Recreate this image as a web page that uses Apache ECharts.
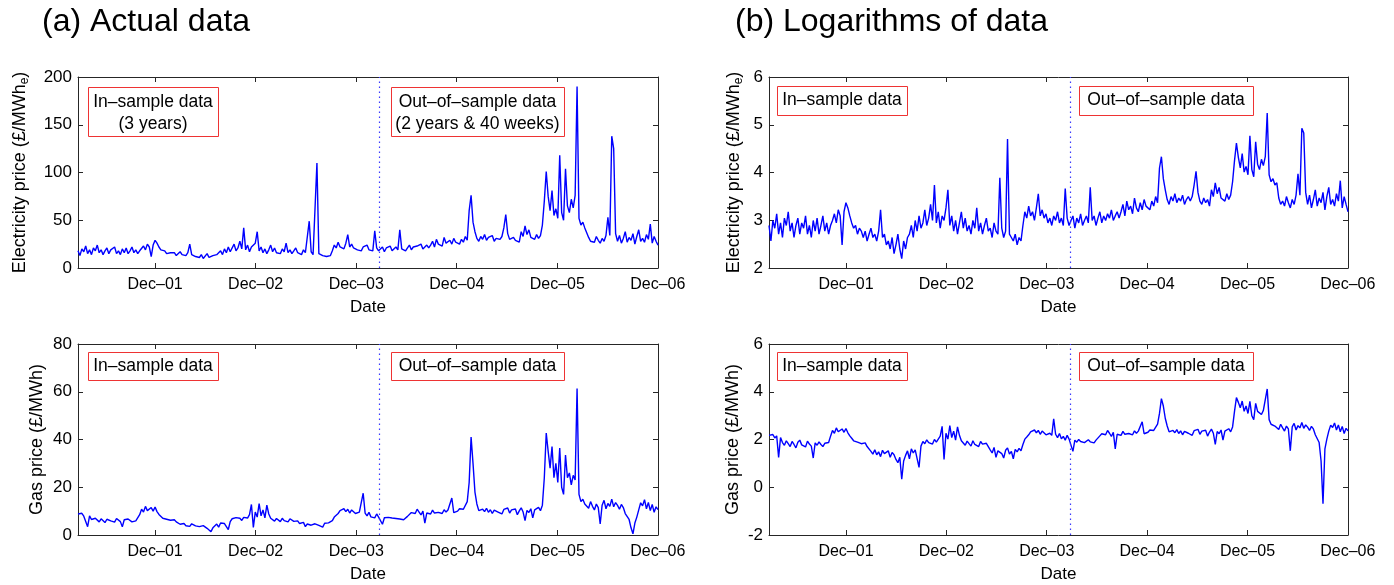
<!DOCTYPE html>
<html><head><meta charset="utf-8">
<script src="https://cdn.jsdelivr.net/npm/echarts@6/dist/echarts.min.js"></script>
<style>html,body{margin:0;padding:0;background:#fff}#c{width:1394px;height:585px}</style>
</head><body><div id="c"></div>
<script>
// ---- data ----
const firstWeek = 2001.15;          // decimal year of first (weekly) observation
const weekStep = 7 / 365.25;        // one week in years
const splitYear = 2004.15;          // end of the 3-year in-sample window
const tickYears = [2001.917, 2002.917, 2003.917, 2004.917, 2005.917, 2006.917];
const tickLabels = ['Dec–01', 'Dec–02', 'Dec–03', 'Dec–04', 'Dec–05', 'Dec–06'];

// electricity price, £/MWh_e (weekly readings)
const elecPrice = [
  18,13,20,17,23,15,19,14,21,18,24,16,19,14,18,21,15,19,17,22,15,18,14,20,16,21,15,18,22,16,19,15,18,
  20,23,19,25,22,12,24,29,26,
  22,19,17,18,15,17,16,
  14,16,13,15,17,14,15,13,16,25,14,15,
  12,13,11,14,10,12,15,11,9,13,11,14,
  15,18,14,20,16,22,17,19,25,18,21,28,20,
  42,
  19,24,17,22,20,26,
  38,
  18,22,16,20,15,19,24,17,21,16,18,15,20,17,26,16,19,15,18,21,16,17,14,19,16,
  15,49,17,14,16,110,15,
  14,13,15,12,14,13,
  18,24,21,27,22,24,20,26,35,22,25,21,
  23,19,21,18,22,20,24,19,21,18,
  39,
  21,18,20,22,17,21,19,23,18,20,22,19,
  40,
  20,22,18,21,24,19,22,20,23,21,25,20,22,24,21,
  24,28,22,30,25,27,23,32,26,24,29,25,31,27,
  28,25,30,27,33,29,
  60,76,48,38,
  31,28,33,30,35,29,32,30,34,28,31,33,30,
  33,42,56,36,
  30,28,32,29,31,27,38,33,44,35,40,32,
  33,30,35,31,34,
  45,70,
  101,75,60,81,55,62,52,
  118,
  58,50,
  104,
  65,58,72,63,76,
  190,
  52,45,48,42,44,
  32,28,30,27,33,29,26,31,28,34,
  53,34,138,125,36,
  28,34,26,31,38,27,32,29,36,25,33,40,28,31,27,35,30,46,26,33,28,24
];

// gas price, £/MWh (weekly readings)
const gasPrice = [
  8.8,8.2,9.1,7.9,8.6,3.5,8.0,
  6.5,5.8,7.0,6.2,5.5,6.8,6.0,5.2,6.6,7.2,5.9,6.3,5.4,6.9,6.1,5.6,3.4,6.4,5.8,6.7,6.0,5.5,6.3,5.9,6.5,
  8.5,10.8,9.6,12.0,10.2,9.4,11.5,10.0,11.7,9.8,
  8.6,7.8,7.0,7.5,6.6,6.9,6.2,5.8,6.4,5.5,5.9,
  4.5,4.0,4.8,3.9,4.4,3.6,4.7,4.1,3.8,4.6,3.5,4.3,3.9,3.2,
  2.8,3.5,1.4,3.0,
  3.8,4.6,3.3,5.0,4.2,4.8,5.2,2.3,
  5.6,6.8,6.2,7.3,6.5,7.0,6.1,7.4,6.6,7.1,
  8.5,12.8,3.2,9.6,7.5,13.2,8.0,10.5,7.2,12.5,8.8,7.0,
  6.5,5.8,6.9,6.2,5.6,7.0,6.0,6.4,5.5,6.8,6.1,5.7,6.3,5.9,
  4.8,4.2,5.3,3.5,4.6,5.0,4.1,3.4,4.7,5.2,4.0,4.5,3.3,4.9,4.4,5.1,4.6,
  6.0,7.5,8.2,9.0,
  10.2,9.4,11.0,9.8,10.8,9.2,10.5,9.9,
  9.0,8.5,9.6,8.8,
  17.5,
  9.2,8.0,9.5,7.6,8.4,7.2,8.8,7.5,
  7.0,4.5,7.2,6.6,7.4,6.8,7.1,6.5,6.9,7.3,6.7,7.0,6.4,7.2,
  7.8,8.6,9.4,10.2,9.0,10.8,9.6,8.4,10.0,5.0,9.2,
  9.8,8.8,10.4,9.2,10.0,9.5,10.3,9.0,10.6,9.6,10.5,9.8,15.5,9.4,10.2,
  10.0,11.0,10.4,10.8,11.5,14.0,
  22,41,30,18,13,
  10.2,9.4,10.8,9.8,11.2,9.5,10.6,9.0,10.4,11.0,9.6,10.2,8.8,10.7,9.9,11.3,9.2,10.5,9.7,10.9,
  8.5,10.1,11.4,9.6,6.0,10.3,9.4,11.0,7.2,10.5,9.8,11.6,10.2,12.5,
  24,42.7,35,28,37,24,30,22,36.4,20,17,33.5,24,26,21,25,23,61.4,17,14,15,13,
  13.5,11.2,14.0,12.0,10.5,13.0,11.5,4.6,12.5,14.5,11.0,13.2,12.0,15.0,11.8,13.6,12.4,10.8,12.8,11.5,9.0,8.5,6.5,
  3.0,0.5,5.0,7.5,
  10.5,13.5,12.2,14.8,11.0,13.6,10.2,12.8,9.5,11.8,10.6
];

const panelTitles = ['(a) Actual data', '(b) Logarithms of data'];
const inSampleText = 'In–sample data';
const outSampleText = 'Out–of–sample data';

// ---- chart ----
const FONT = '"Liberation Sans", Arial, Helvetica, sans-serif';
const AX = '#262626';
const xMin = firstWeek;
const xMax = firstWeek + (elecPrice.length - 1) * weekStep;

const grids = [
  {left: 78, top: 77, width: 580, height: 191},
  {left: 78, top: 344, width: 580, height: 191},
  {left: 769, top: 77, width: 579, height: 191},
  {left: 769, top: 344, width: 579, height: 191}
];

function xLabel(v) {
  const k = tickYears.findIndex(t => Math.abs(t - v) < 0.01);
  return k >= 0 ? tickLabels[k] : '';
}

const xAxes = [], yAxes = [];
grids.forEach((g, gi) => {
  xAxes.push({
    type: 'value', gridIndex: gi, min: xMin, max: xMax, position: 'bottom',
    axisLine: {show: true, onZero: false, lineStyle: {color: AX, width: 1}},
    axisTick: {show: true, inside: true, length: 5, customValues: tickYears, lineStyle: {color: AX}},
    axisLabel: {customValues: tickYears, formatter: xLabel, color: '#000', fontSize: 16, fontFamily: FONT, margin: 9},
    splitLine: {show: false},
    name: 'Date', nameLocation: 'middle', nameGap: 31,
    nameTextStyle: {color: '#000', fontSize: 17, fontFamily: FONT}
  });
  xAxes.push({
    type: 'value', gridIndex: gi, min: xMin, max: xMax, position: 'top',
    axisLine: {show: true, onZero: false, lineStyle: {color: AX, width: 1}},
    axisTick: {show: true, inside: true, length: 5, customValues: tickYears, lineStyle: {color: AX}},
    axisLabel: {show: false}, splitLine: {show: false}
  });
});

const yCfg = [
  {min: 0, max: 200, interval: 50, gap: 47, elec: true},
  {min: 0, max: 80, interval: 20, gap: 32, elec: false},
  {min: 2, max: 6, interval: 1, gap: 24, elec: true},
  {min: -2, max: 6, interval: 2, gap: 27, elec: false}
];
yCfg.forEach((c, gi) => {
  const nm = c.elec ? '{a|Electricity price (£/MWh}{s|e}{a|)}' : '{a|Gas price (£/MWh)}';
  yAxes.push({
    type: 'value', gridIndex: gi, min: c.min, max: c.max, interval: c.interval, position: 'left',
    axisLine: {show: true, onZero: false, lineStyle: {color: AX, width: 1}},
    axisTick: {show: true, inside: true, length: 5, lineStyle: {color: AX}},
    axisLabel: {color: '#000', fontSize: 17, fontFamily: FONT, margin: 6},
    splitLine: {show: false},
    name: nm, nameLocation: 'middle', nameRotate: 90, nameGap: c.gap,
    nameTextStyle: {
      rich: {
        a: {fontSize: 18, fontFamily: FONT, color: '#000'},
        s: {fontSize: 12, fontFamily: FONT, color: '#000', padding: [10, 0, 0, 0]}
      }
    }
  });
  yAxes.push({
    type: 'value', gridIndex: gi, min: c.min, max: c.max, interval: c.interval, position: 'right',
    axisLine: {show: true, onZero: false, lineStyle: {color: AX, width: 1}},
    axisTick: {show: true, inside: true, length: 5, lineStyle: {color: AX}},
    axisLabel: {show: false}, splitLine: {show: false}
  });
});

const toPts = (arr, f) => arr.map((v, i) => [firstWeek + i * weekStep, f(v)]);
const seriesData = [
  toPts(elecPrice, v => v),
  toPts(gasPrice, v => v),
  toPts(elecPrice, v => Math.log(v)),
  toPts(gasPrice, v => Math.log(v))
];

const series = seriesData.map((d, gi) => ({
  type: 'line', xAxisIndex: gi * 2, yAxisIndex: gi * 2, data: d,
  showSymbol: false, symbol: 'none', animation: false,
  lineStyle: {color: '#0000ff', width: 1.4},
  markLine: {
    silent: true, symbol: 'none', animation: false,
    label: {show: false},
    lineStyle: {type: [1.5, 3.5], color: '#3a3aff', width: 1.2},
    data: [{xAxis: splitYear}]
  }
}));

// annotation boxes
const graphics = [];
function box(x, y, w, h, lines, lineYs, cx) {
  graphics.push({type: 'rect', z: 50, shape: {x: x + 0.5, y: y + 0.5, width: w, height: h},
    style: {fill: '#fff', stroke: '#ee3333', lineWidth: 1}});
  lines.forEach((t, k) => graphics.push({type: 'text', z: 51,
    style: {text: t, x: cx, y: lineYs[k], fill: '#000', font: '17.5px ' + FONT,
      textAlign: 'center', textVerticalAlign: 'middle'}}));
}
box(88, 87, 130, 49, [inSampleText, '(3 years)'], [102, 124], 153);
box(391, 87, 173, 49, [outSampleText, '(2 years & 40 weeks)'], [102, 124], 477.5);
box(88, 352, 130, 28, [inSampleText], [366], 153);
box(391, 352, 173, 28, [outSampleText], [366], 477.5);
box(777, 86, 130, 29, [inSampleText], [100.5], 842);
box(1079, 86, 174, 29, [outSampleText], [100.5], 1166);
box(777, 352, 130, 28, [inSampleText], [366], 842);
box(1079, 352, 174, 28, [outSampleText], [366], 1166);

graphics.push({type: 'text', style: {text: panelTitles[0], x: 42, y: 22, fill: '#000',
  font: '32px ' + FONT, textAlign: 'left', textVerticalAlign: 'middle'}});
graphics.push({type: 'text', style: {text: panelTitles[1], x: 735, y: 22, fill: '#000',
  font: '32px ' + FONT, textAlign: 'left', textVerticalAlign: 'middle'}});

const chart = echarts.init(document.getElementById('c'), null, {renderer: 'canvas'});
chart.setOption({
  animation: false,
  backgroundColor: '#fff',
  grid: grids,
  xAxis: xAxes,
  yAxis: yAxes,
  series: series,
  graphic: graphics
});
</script></body></html>
